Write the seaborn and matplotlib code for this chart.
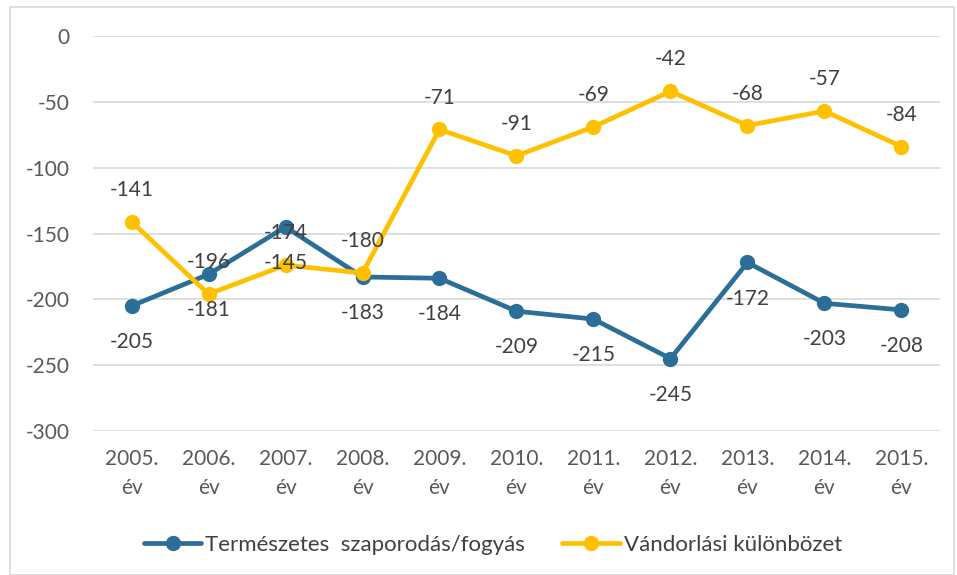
import pandas as pd
import seaborn as sns
import matplotlib.pyplot as plt
from matplotlib.patches import Rectangle

sns.set_theme(style='white')
plt.rcParams['font.family'] = ['Lato', 'DejaVu Sans']
plt.rcParams['axes.unicode_minus'] = False

years = ['2005.\név', '2006.\név', '2007.\név', '2008.\név', '2009.\név', '2010.\név',
         '2011.\név', '2012.\név', '2013.\név', '2014.\név', '2015.\név']
termeszetes = [-205, -181, -145, -183, -184, -209, -215, -245, -172, -203, -208]
vandorlasi = [-141, -196, -174, -180, -71, -91, -69, -42, -68, -57, -84]
series_names = ['Természetes  szaporodás/fogyás', 'Vándorlási különbözet']
colors = ['#2B6E97', '#FFC000']

df = pd.concat([
    pd.DataFrame({'ev': years, 'ertek': termeszetes, 'sor': series_names[0]}),
    pd.DataFrame({'ev': years, 'ertek': vandorlasi, 'sor': series_names[1]}),
])

fig = plt.figure(figsize=(9.57, 5.75), dpi=100)
ax = fig.add_axes([0.0972, 0.2504, 0.885, 0.687])

# outer chart border
fig.patches.append(Rectangle((10 / 957, 0), 944 / 957, 1 - 7 / 575, transform=fig.transFigure,
                             fill=False, edgecolor='#D9D9D9', linewidth=1.2))

sns.lineplot(data=df, x='ev', y='ertek', hue='sor', palette=colors, marker='o',
             markersize=11, markeredgewidth=0, linewidth=3.4, sort=False, ax=ax)

# data labels: blue below, yellow above
for i, v in enumerate(termeszetes):
    ax.annotate(str(v), (i, v), xytext=(0, -26), textcoords='offset points',
                ha='center', va='center', fontsize=15, color='#404040')
for i, v in enumerate(vandorlasi):
    ax.annotate(str(v), (i, v), xytext=(0, 23), textcoords='offset points',
                ha='center', va='center', fontsize=15, color='#404040')

ax.set_ylim(-300, 0)
ax.set_xlim(-0.5, len(years) - 0.5)
ax.set_yticks(range(-300, 1, 50))
ax.yaxis.grid(True, color='#D9D9D9', linewidth=1.2)
ax.set_axisbelow(True)
ax.tick_params(axis='both', length=0, labelsize=15, labelcolor='#595959')
ax.tick_params(axis='y', pad=17)
ax.tick_params(axis='x', pad=13)
for lbl in ax.get_xticklabels():
    lbl.set_linespacing(1.55)
ax.set_xlabel('')
ax.set_ylabel('')
sns.despine(ax=ax, left=True, bottom=True)

leg = ax.legend(loc='center', bbox_to_anchor=(0.472, -0.289), ncol=2, frameon=False,
                fontsize=16, handlelength=2.6, columnspacing=1.7, handletextpad=0.15)
for t in leg.get_texts():
    t.set_color('#404040')

fig.savefig('out.png', dpi=100)
